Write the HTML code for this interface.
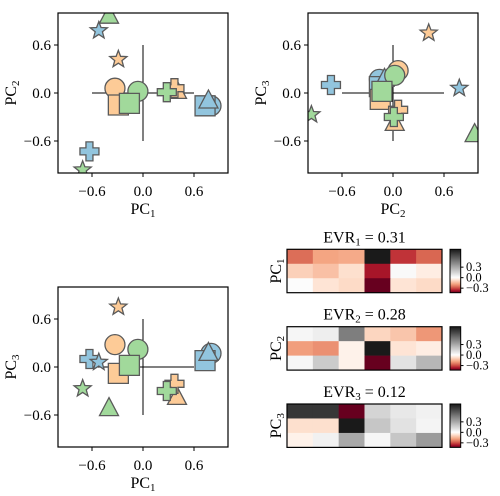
<!DOCTYPE html>
<html><head><meta charset="utf-8"><style>
html,body{margin:0;padding:0;background:#fff;}
svg{display:block;font-family:"Liberation Serif",serif;}
</style></head><body>
<svg id="fig" width="500" height="496" viewBox="0 0 500 496" xmlns="http://www.w3.org/2000/svg"></svg>
<script>
// ---- data ----
const groups = ["blue","blue","blue","blue","blue","orange","orange","orange","orange","orange","green","green","green","green","green"];
const markers = ["circle","square","triangle","plus","star","circle","square","triangle","plus","star","circle","square","triangle","plus","star"];
const pc1Values = [0.80,0.73,0.77,-0.63,-0.52, -0.33,-0.29,0.40,0.37,-0.29, -0.06,-0.16,-0.40,0.28,-0.71];
const pc2Values = [-0.16,-0.16,-0.10,-0.73,0.78, 0.06,-0.15,0.02,0.06,0.42, 0.02,-0.13,0.96,0.01,-0.96];
const pc3Values = [0.17,0.08,0.17,0.10,0.06, 0.28,-0.08,-0.38,-0.21,0.75, 0.22,0.02,-0.52,-0.30,-0.27];
const tickValues = [-0.6,0.0,0.6];
const tickLabels = ["\u22120.6","0.0","0.6"];
const evrValues = [0.31,0.28,0.12];
const loadings1 = [[-0.26,-0.18,-0.17,0.80,-0.33,-0.27],[-0.10,-0.13,-0.07,-0.37,0.02,-0.04],[0.01,-0.06,-0.08,-0.43,-0.06,-0.08]];
const loadings2 = [[0.03,0.06,0.45,-0.09,-0.12,-0.20],[-0.19,-0.21,-0.03,0.80,-0.06,-0.04],[0.03,0.18,-0.03,-0.43,0.10,0.25]];
const loadings3 = [[0.70,0.70,-0.43,0.15,0.08,0.05],[-0.07,-0.07,0.80,0.20,0.10,0.04],[-0.03,0.05,0.30,0.03,0.20,0.35]];
const cbTickValues = [0.3,0.0,-0.3];
const cbTickLabels = ["0.3","0.0","\u22120.3"];

const NS="http://www.w3.org/2000/svg";
const svg=document.getElementById('fig');
function mk(tag,attrs,parent){const e=document.createElementNS(NS,tag);for(const k in attrs)e.setAttribute(k,attrs[k]);(parent||svg).appendChild(e);return e;}
const fill={blue:"#92c5de",orange:"#fdcb97",green:"#a1d99b"};

function shapePath(m){
  if(m==="square")return "M-10,-10H10V10H-10Z";
  if(m==="triangle")return "M0,-11L9.5,7H-9.5Z";
  if(m==="plus")return "M-3.5,-9.5H3.5V-3.5H9.5V3.5H3.5V9.5H-3.5V3.5H-9.5V-3.5H-3.5Z";
  if(m==="star"){let d="";for(let i=0;i<10;i++){const r=i%2?3.8:9;const a=-Math.PI/2+i*Math.PI/5;d+=(i?"L":"M")+(r*Math.cos(a)).toFixed(2)+","+(r*Math.sin(a)).toFixed(2);}return d+"Z";}
  return null;
}

function scatter(name,x0,y0,xs,ys,xlab,ylab){
  const W=170,H=160,cx=x0+W/2,cy=y0+H/2,sx=85,sy=80;
  const X=v=>cx+v*sx, Y=v=>cy-v*sy;
  const g=mk('g',{});
  
  
  const clipId=name+"-clip";
  const cp=mk('clipPath',{id:clipId},g);mk('rect',{x:x0,y:y0,width:W,height:H},cp);
  const cross=mk('g',{},g);
  
  
  mk('line',{x1:X(-0.6),x2:X(0.6),y1:Y(0),y2:Y(0),stroke:"#000","stroke-width":1},cross);
  mk('line',{x1:X(0),x2:X(0),y1:Y(0.6),y2:Y(-0.6),stroke:"#000","stroke-width":1},cross);
  const pts=mk('g',{"clip-path":"url(#"+clipId+")"},g);
  for(let i=0;i<xs.length;i++){
    const px=X(xs[i]),py=Y(ys[i]);
    const m=markers[i];
    let el;
    const a={fill:fill[groups[i]],stroke:"#5a5a5a","stroke-width":1.3};
    if(m==="circle"){el=mk('circle',Object.assign({cx:px,cy:py,r:10},a),pts);}
    else{el=mk('path',Object.assign({d:shapePath(m),transform:"translate("+px+","+py+")"},a),pts);}
    
    
  }
  const fr=mk('rect',{x:x0,y:y0,width:W,height:H,fill:"none",stroke:"#000","stroke-width":1.2},g);
  
  
  for(let k=0;k<tickValues.length;k++){
    const tx=X(tickValues[k]),ty=Y(tickValues[k]);
    mk('line',{x1:tx,x2:tx,y1:y0+H,y2:y0+H+4,stroke:"#000"},g);
    mk('line',{x1:x0-4,x2:x0,y1:ty,y2:ty,stroke:"#000"},g);
    const xl=mk('text',{x:tx,y:y0+H+23,"text-anchor":"middle","font-size":15},g);xl.textContent=tickLabels[k];
    
    
    const yl=mk('text',{x:x0-7,y:ty+5,"text-anchor":"end","font-size":15},g);yl.textContent=tickLabels[k];
    
    
  }
  const xt=mk('text',{x:cx,y:y0+H+41,"text-anchor":"middle","font-size":16},g);
  xt.innerHTML='PC<tspan font-size="11" dy="3">'+xlab+'</tspan>';
  
  
  const yt=mk('text',{x:0,y:0,"text-anchor":"middle","font-size":16,transform:"translate("+(x0-42)+","+cy+") rotate(-90)"},g);
  yt.innerHTML='PC<tspan font-size="11" dy="3">'+ylab+'</tspan>';
  
  
}
scatter('scatter-pc1-pc2',58,13,pc1Values,pc2Values,'1','2');
scatter('scatter-pc2-pc3',308,13,pc2Values,pc3Values,'2','3');
scatter('scatter-pc1-pc3',58,287,pc1Values,pc3Values,'1','3');

// colormap RdGy-like
const negStops=[[0,[255,255,255]],[-0.08,[253,219,199]],[-0.18,[244,165,130]],[-0.28,[214,96,77]],[-0.36,[178,24,43]],[-0.43,[103,0,31]]];
function cmap(v){
  if(v>=0){const t=Math.min(v/0.8,1);const c=Math.round(255-229*t);return "rgb("+c+","+c+","+c+")";}
  for(let i=1;i<negStops.length;i++){
    if(v>=negStops[i][0]||i===negStops.length-1){
      const [a,ca]=negStops[i-1],[b,cb]=negStops[i];
      let t=(v-a)/(b-a);t=Math.max(0,Math.min(1,t));
      return "rgb("+ca.map((c,j)=>Math.round(c+(cb[j]-c)*t)).join(",")+")";
    }
  }
}
const gr=mk('defs',{});
const lg=mk('linearGradient',{id:"cbgrad",x1:0,y1:1,x2:0,y2:0},gr);
const vmin=-0.43,vmax=0.81;
for(let s=0;s<=20;s++){const v=vmin+(vmax-vmin)*s/20;mk('stop',{offset:(s/20),"stop-color":cmap(v)},lg);}

function heat(name,y0,data,idx){
  const x0=287,W=155,H=43.4,cw=W/6,ch=H/3;
  const g=mk('g',{});
  
  
  for(let r=0;r<3;r++)for(let c=0;c<6;c++){
    const cell=mk('rect',{x:x0+c*cw,y:y0+r*ch,width:cw+0.3,height:ch+0.3,fill:cmap(data[r][c])},g);
    
    
  }
  mk('rect',{x:x0,y:y0,width:W,height:H,fill:"none",stroke:"#000","stroke-width":1.2},g);
  const t=mk('text',{x:x0+W/2,y:y0-7,"text-anchor":"middle","font-size":16},g);
  t.innerHTML='EVR<tspan font-size="11" dy="3">'+idx+'</tspan><tspan dy="-3"> = '+evrValues[idx-1].toFixed(2)+'</tspan>';
  
  
  const yt=mk('text',{x:0,y:0,"text-anchor":"middle","font-size":16,transform:"translate("+(x0-6)+","+(y0+H/2)+") rotate(-90)"},g);
  yt.innerHTML='PC<tspan font-size="11" dy="3">'+idx+'</tspan>';
  
  
  const cb=mk('rect',{x:450,y:y0,width:10.7,height:H,fill:"url(#cbgrad)",stroke:"#000","stroke-width":1},g);
  
  
  for(let k=0;k<cbTickValues.length;k++){
    const ty=y0+H-(cbTickValues[k]-vmin)/(vmax-vmin)*H;
    mk('line',{x1:460.7,x2:463.5,y1:ty,y2:ty,stroke:"#000"},g);
    const l=mk('text',{x:466,y:ty+4,"font-size":12.5},g);l.textContent=cbTickLabels[k];
    
    
  }
}
heat('loadings-heatmap-pc1',249.3,loadings1,1);
heat('loadings-heatmap-pc2',326.7,loadings2,2);
heat('loadings-heatmap-pc3',404,loadings3,3);
</script>
</body></html>
